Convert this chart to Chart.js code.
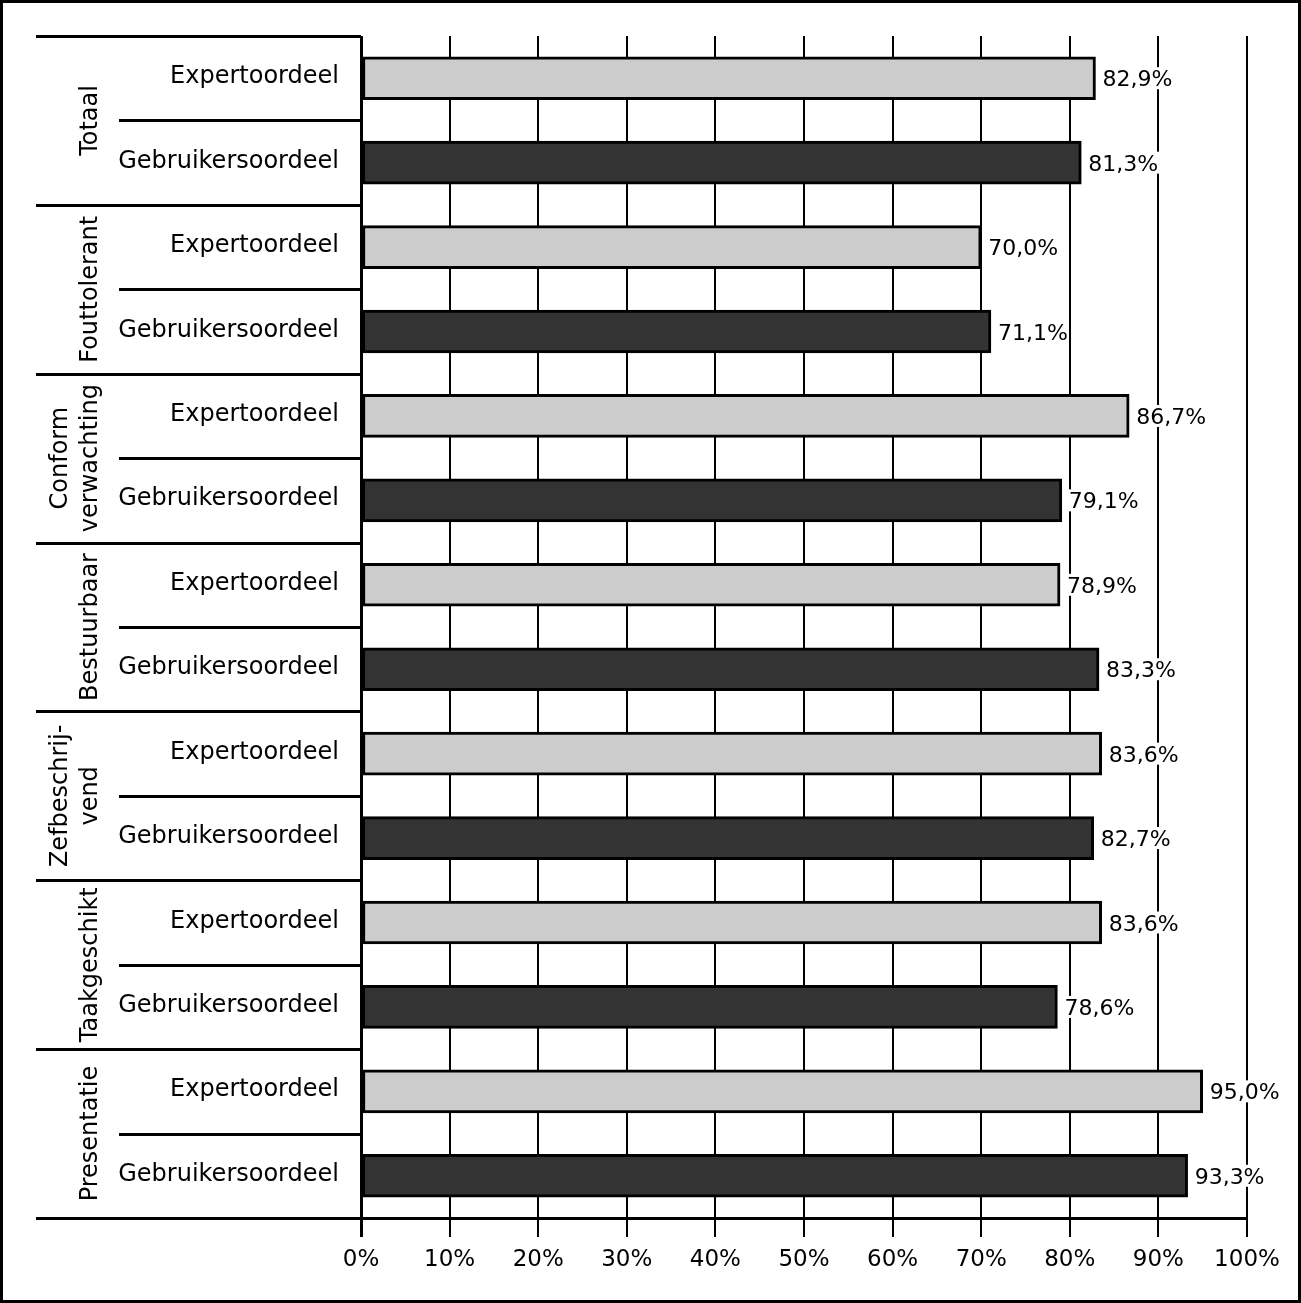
<!DOCTYPE html>
<html>
<head>
<meta charset="utf-8">
<script src="https://cdn.jsdelivr.net/npm/chart.js@4/dist/chart.umd.min.js"></script>
<style>
html,body{margin:0;padding:0;background:#fff;}
canvas{display:block;}
</style>
</head>
<body>
<canvas id="c" width="1301" height="1303"></canvas>
<script>
// ---- data ----
const groups = [["Totaal"], ["Fouttolerant"], ["Conform", "verwachting"], ["Bestuurbaar"], ["Zefbeschrij-", "vend"], ["Taakgeschikt"], ["Presentatie"]];
const subLabels = ["Expertoordeel", "Gebruikersoordeel"];
const expertValues = [82.9, 70.0, 86.7, 78.9, 83.6, 83.6, 95.0];
const userValues   = [81.3, 71.1, 79.1, 83.3, 82.7, 78.6, 93.3];
const tickValues = [0, 10, 20, 30, 40, 50, 60, 70, 80, 90, 100];

const FONT = "DejaVu Sans";
const labels = [], values = [], colors = [];
groups.forEach((g, i) => {
  labels.push(g.join(" ") + " – " + subLabels[0]); values.push(expertValues[i]); colors.push("#cccccc");
  labels.push(g.join(" ") + " – " + subLabels[1]); values.push(userValues[i]); colors.push("#333333");
});
const fmt = v => v.toFixed(1).replace(".", ",") + "%";

const decor = {
  id: "decor",
  beforeDraw(chart) {
    const ctx = chart.ctx;
    ctx.save();
    ctx.fillStyle = "#fff";
    ctx.fillRect(0, 0, chart.width, chart.height);
    ctx.restore();
  },
  afterDraw(chart) {
    const ctx = chart.ctx;
    const ca = chart.chartArea;
    const ys = chart.scales.y;
    const slot = (ca.bottom - ca.top) / values.length;
    ctx.save();
    ctx.strokeStyle = "#000";
    ctx.lineWidth = 3;
    // group & sub lines
    for (let i = 0; i < groups.length; i++) {
      const yG = Math.round(ca.top + i * 2 * slot) + 0.5;
      ctx.beginPath(); ctx.moveTo(36, yG); ctx.lineTo(ca.left, yG); ctx.stroke();
      const yS = Math.round(ca.top + (i * 2 + 1) * slot) + 0.5;
      ctx.beginPath(); ctx.moveTo(119, yS); ctx.lineTo(ca.left, yS); ctx.stroke();
    }
    const yB = Math.round(ca.bottom) + 0.5;
    ctx.beginPath(); ctx.moveTo(36, yB); ctx.lineTo(ca.right + 1, yB); ctx.stroke();

    // sub labels
    ctx.fillStyle = "#000";
    ctx.font = "24px '" + FONT + "'";
    ctx.textAlign = "right";
    ctx.textBaseline = "alphabetic";
    for (let i = 0; i < values.length; i++) {
      const yc = ys.getPixelForValue(i);
      ctx.fillText(subLabels[i % 2], 339, yc + 5);
    }
    // group labels (rotated)
    ctx.textAlign = "center";
    groups.forEach((g, i) => {
      const yc = ca.top + (i * 2 + 1) * slot;
      const n = g.length;
      ctx.save();
      ctx.translate(0, yc);
      ctx.rotate(-Math.PI / 2);
      g.forEach((line, k) => {
        const xBase = 97 - (n - 1 - k) * 30;
        ctx.fillText(line, 0, xBase);
      });
      ctx.restore();
    });

    // value labels
    const meta = chart.getDatasetMeta(0);
    ctx.font = "22px '" + FONT + "'";
    ctx.textAlign = "left";
    meta.data.forEach((bar, i) => {
      const t = fmt(values[i]);
      const x = bar.x + 7;
      const w = ctx.measureText(t).width;
      ctx.fillStyle = "#fff";
      ctx.fillRect(x - 2, bar.y - 11, w + 3, 22);
      ctx.fillStyle = "#000";
      ctx.fillText(t, x, bar.y + 8);
    });

    // outer border
    ctx.lineWidth = 3;
    ctx.strokeRect(1.5, 1.5, chart.width - 3, chart.height - 3);
    ctx.restore();
  }
};

new Chart(document.getElementById("c"), {
  type: "bar",
  data: {
    labels: labels,
    datasets: [{
      data: values,
      backgroundColor: colors,
      borderColor: "#000",
      borderWidth: 3,
      borderSkipped: false,
      barThickness: 43
    }]
  },
  options: {
    indexAxis: "y",
    responsive: false,
    animation: false,
    devicePixelRatio: 1,
    layout: { padding: { left: 361, right: 54, top: 36, bottom: 0 } },
    plugins: { legend: { display: false }, tooltip: { enabled: false } },
    scales: {
      x: {
        min: 0, max: 100,
        afterBuildTicks: s => { s.ticks = tickValues.map(v => ({ value: v })); },
        afterFit: s => { s.height = 85; },
        ticks: {
          callback: v => v + "%",
          color: "#000",
          font: { family: FONT, size: 23 },
          padding: 9,
          maxRotation: 0
        },
        grid: {
          color: "#000",
          lineWidth: c => (c.index === 0 ? 3 : 2),
          drawTicks: true,
          tickLength: 19,
          tickWidth: c => (c.index === 0 ? 3 : 2),
          tickColor: "#000"
        },
        border: { display: false }
      },
      y: { display: false }
    }
  },
  plugins: [decor]
});
</script>
</body>
</html>
